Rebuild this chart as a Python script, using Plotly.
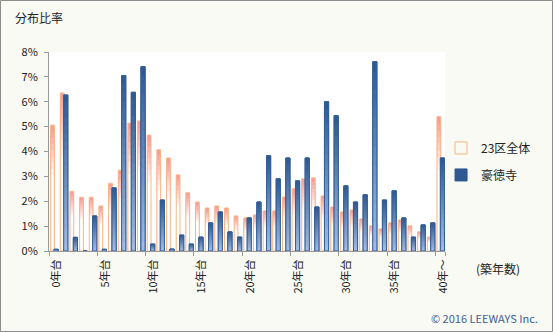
import plotly.graph_objects as go

# ---- data ----
categories = [f"{i}年台" for i in range(40)] + ["40年～"]
tick_labels = ["0年台", "5年台", "10年台", "15年台", "20年台", "25年台", "30年台", "35年台", "40年～"]
ku23_all = [5.06, 6.35, 2.40, 2.16, 2.16, 1.81, 2.72, 3.25, 5.14, 5.23,
            4.66, 4.07, 3.74, 3.06, 2.34, 1.97, 1.73, 1.81, 1.73, 1.41,
            1.33, 1.45, 1.61, 1.61, 2.17, 2.50, 2.90, 2.94, 2.21, 1.77,
            1.57, 1.65, 1.29, 1.01, 0.89, 1.13, 1.25, 1.01, 0.77, 0.56,
            5.40]
gotokuji = [0.07, 6.27, 0.55, 0.00, 1.41, 0.07, 2.54, 7.05, 6.38, 7.41,
            0.28, 2.05, 0.08, 0.64, 0.28, 0.56, 1.13, 1.57, 0.77, 0.56,
            1.33, 1.97, 3.83, 2.90, 3.74, 2.82, 3.74, 1.77, 6.00, 5.44,
            2.62, 1.97, 2.26, 7.61, 2.05, 2.42, 1.33, 0.56, 1.05, 1.13,
            3.74]
series_names = ["23区全体", "豪徳寺"]

FONT = "Noto Sans CJK JP, Noto Sans, sans-serif"


def lerp(c1, c2, t):
    t = max(0.0, min(1.0, t))
    return "rgb(%d,%d,%d)" % tuple(round(a + (b - a) * t) for a, b in zip(c1, c2))


fig = go.Figure()
N = 20

# 23区全体: pink top fading to white
pink, white = (246, 150, 148), (255, 255, 255)
s_off, s_w = -0.33, 0.39
for k in range(N):
    frac = 1 - k / N
    depth = (k + 0.5) / N
    if depth > 0.5:
        break
    fig.add_trace(go.Bar(
        x=categories, y=[v / 100 * frac for v in ku23_all],
        offset=s_off, width=s_w,
        marker=dict(color=lerp(pink, white, depth / 0.42), line=dict(width=0)),
        showlegend=False, hoverinfo="skip", legendgroup="a"))
fig.add_trace(go.Bar(
    x=categories, y=[v / 100 for v in ku23_all], name=series_names[0],
    offset=s_off, width=s_w,
    marker=dict(color="rgba(255,255,255,0)", line=dict(color="#f9b584", width=1)),
    legendgroup="a", legendrank=1))

# 豪徳寺: dark blue top to light blue bottom
dark, light = (46, 88, 144), (164, 188, 224)
b_off, b_w = 0.02, 0.43
for k in range(N):
    frac = 1 - k / N
    depth = (k + 0.5) / N
    fig.add_trace(go.Bar(
        x=categories, y=[v / 100 * frac for v in gotokuji],
        offset=b_off, width=b_w,
        name=series_names[1],
        marker=dict(color=lerp(dark, light, depth),
                    line=dict(color="#2c568e", width=1 if k == 0 else 0)),
        showlegend=(k == 0), hoverinfo="skip", legendgroup="b", legendrank=2))
fig.add_trace(go.Bar(
    x=categories, y=[v / 100 for v in gotokuji], name=series_names[1],
    offset=b_off, width=b_w,
    marker=dict(color="rgba(0,0,0,0)", line=dict(color="#34609a", width=1)),
    showlegend=False, hoverinfo="skip", legendgroup="b"))

fig.update_layout(
    width=553, height=332,
    margin=dict(l=49, r=108, t=52, b=81, autoexpand=False),
    paper_bgcolor="#f8faf3",
    plot_bgcolor="#ffffff",
    barmode="overlay",
    font=dict(family=FONT, size=11, color="#333333"),
    legend=dict(x=0.99, y=0.45, xanchor="left", yanchor="middle",
                font=dict(size=12, color="#222222"), bgcolor="rgba(0,0,0,0)",
                traceorder="grouped", tracegroupgap=8, itemwidth=30),
    xaxis=dict(
        type="category", categoryorder="array", categoryarray=categories,
        tickmode="array", tickvals=categories[::5], ticktext=tick_labels,
        tickson="boundaries", ticks="outside", ticklen=4, tickcolor="#999999",
        tickangle=-90, showline=True, linecolor="#999999", showgrid=False,
        tickfont=dict(size=11, color="#222222"), range=[-0.5, 40.5],
        ticklabelshift=3, ticklabelstandoff=3,
    ),
    yaxis=dict(
        range=[0, 0.08], dtick=0.01, tickformat=".0%",
        ticks="outside", ticklen=4, tickcolor="#999999",
        showline=True, linecolor="#999999", showgrid=False, zeroline=False,
        tickfont=dict(size=11, color="#222222"), ticklabelstandoff=4,
    ),
    annotations=[
        dict(text="分布比率", xref="paper", yref="paper",
             x=(13 - 49) / 396, y=(251 - 17) / 199, xanchor="left", yanchor="middle",
             showarrow=False, font=dict(size=12, color="#222222")),
        dict(text="(築年数)", xref="paper", yref="paper",
             x=(498 - 49) / 396, y=(251 - 268) / 199, xanchor="center", yanchor="middle",
             showarrow=False, font=dict(size=12, color="#222222")),
        dict(text="© 2016 LEEWAYS Inc.", xref="paper", yref="paper",
             x=(540 - 49) / 396, y=(251 - 318) / 199, xanchor="right", yanchor="middle",
             showarrow=False, font=dict(size=11, color="#3d6096")),
    ],
    shapes=[
        dict(type="rect", xref="paper", yref="paper",
             x0=(0.5 - 49) / 396, x1=(552.5 - 49) / 396,
             y0=(251 - 331.5) / 199, y1=(251 - 0.5) / 199,
             line=dict(color="#8c8c8c", width=1), fillcolor="rgba(0,0,0,0)", layer="below"),
    ],
)

fig.write_html("out.html")
